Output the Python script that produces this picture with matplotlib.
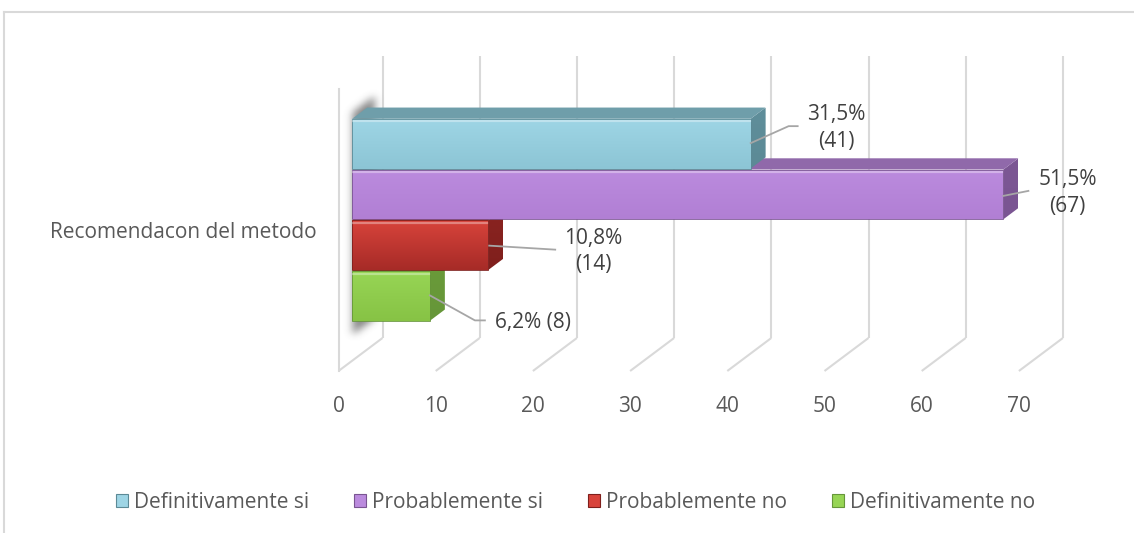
import numpy as np
import matplotlib
matplotlib.use("Agg")
import matplotlib.pyplot as plt
from matplotlib.patches import Polygon, Patch
from matplotlib.lines import Line2D
from matplotlib.path import Path
from matplotlib.colors import to_rgb

# ---------------------------------------------------------------- data
category = "Recomendacon del metodo"
series = ["Definitivamente si", "Probablemente si", "Probablemente no", "Definitivamente no"]
counts = [41, 67, 14, 8]
percents = ["31,5%", "51,5%", "10,8%", "6,2%"]
ticks = [0, 10, 20, 30, 40, 50, 60, 70]

# ---------------------------------------------------------------- style
FONT = "Open Sans"
TXT = "#595959"
GRID = "#D9D9D9"
FS = 15

front_top = ["#9ED5E5", "#BB8BDE", "#D8433B", "#97D555"]
front_bot = ["#8CC5D5", "#B17FD4", "#A62B27", "#87C345"]
top_face = ["#6F9EAA", "#9069AA", "#B33530", "#7DB040"]
side_col = ["#5F8E9A", "#7C5794", "#8A2421", "#6A9B39"]
edge_col = ["#5C8A96", "#7A5592", "#7F1F1C", "#66963A"]

# ---------------------------------------------------------------- projection
W, H = 1134, 533
PX = 9.72            # pixels per value unit
X0 = 338.5           # pixel column of value 0 on the front floor edge
Y0 = 371.0           # pixel row of the front floor edge
DX, DY = 44 / PX, 33.0   # depth vector of the plot box (value units, px)
WALL_H = 282.0       # wall height
BAR_D0, BAR_D1 = 0.31, 0.65   # bar depth range inside the box
BAR_H0, BAR_STEP = 40.0, 50.75


def proj(v, h, d):
    return (v + d * DX, h + d * DY)


fig = plt.figure(figsize=(W / 100, H / 100), dpi=100)
ax = fig.add_axes([0, 0, 1, 1])
ax.set_xlim(-X0 / PX, (W - X0) / PX)
ax.set_ylim(Y0 - H, Y0)
ax.axis("off")


def gradient_poly(pts, c0, c1, z, horizontal=False):
    poly = Polygon(pts, closed=True, facecolor="none", edgecolor="none", zorder=z)
    ax.add_patch(poly)
    xs = [p[0] for p in pts]
    ys = [p[1] for p in pts]
    a, b = np.array(to_rgb(c0)), np.array(to_rgb(c1))
    t = np.linspace(0, 1, 64)
    g = a[None, :] * (1 - t[:, None]) + b[None, :] * t[:, None]
    img = g[None, :, :] if horizontal else g[:, None, :]
    im = ax.imshow(img, extent=(min(xs), max(xs), min(ys), max(ys)),
                   origin="upper", aspect="auto", interpolation="bilinear", zorder=z)
    im.set_clip_path(poly)


# ---------------------------------------------------------------- walls & grid
for t in ticks:
    ax.plot(*zip(proj(t, 0, 1), proj(t, WALL_H, 1)), color=GRID, lw=1.5, zorder=1,
            solid_capstyle="butt")
    ax.plot(*zip(proj(t, 0, 0), proj(t, 0, 1)), color=GRID, lw=1.5, zorder=1,
            solid_capstyle="butt")
    ax.text(t, -35, str(t), ha="center", va="center", fontsize=FS,
            family=FONT, color=TXT)
ax.plot(*zip(proj(0, 0, 0), proj(0, WALL_H, 0)), color=GRID, lw=1.5, zorder=1)

ax.text(-2.3, 138, category, ha="right", va="center", fontsize=FS,
        family=FONT, color=TXT)

# soft shadow of the bar stack against the left wall
n = len(counts)
h_lo, h_hi = BAR_H0, BAR_H0 + BAR_STEP * n
shadow_pts = [proj(0, h_lo - 14, BAR_D0), proj(0, h_hi + 6, BAR_D0),
              proj(0, h_hi + 6, BAR_D1 + 0.15), proj(0, h_lo - 14, BAR_D1 + 0.15)]
sx0, sx1 = -2.5, 6.0
sy0, sy1 = h_lo - 45, h_hi + 55
gx = np.linspace(sx0, sx1, 90)
gy = np.linspace(sy0, sy1, 370)
GX, GY = np.meshgrid(gx, gy)
sp = [(x + 0.1, y) for x, y in shadow_pts]
mask = Path(sp).contains_points(np.c_[GX.ravel(), GY.ravel()]).reshape(GX.shape).astype(float)
k = np.exp(-0.5 * (np.arange(-15, 16) / 4.5) ** 2)
k /= k.sum()
mask = np.apply_along_axis(lambda r: np.convolve(r, k, mode="same"), 1, mask)
mask = np.apply_along_axis(lambda c: np.convolve(c, k, mode="same"), 0, mask)
rgba = np.zeros(mask.shape + (4,))
rgba[..., :3] = 0.32
rgba[..., 3] = 0.7 * mask
ax.imshow(rgba, extent=(sx0, sx1, sy0, sy1), origin="lower", aspect="auto",
          interpolation="bilinear", zorder=2)

# ---------------------------------------------------------------- bars
# bottom bar first so each upper bar hides the top of the one below
for i in reversed(range(n)):
    v = counts[i]
    hb = BAR_H0 + BAR_STEP * (n - 1 - i)
    ht = hb + BAR_STEP - 1.0
    z = 3 + (n - i) * 0.1
    side = [proj(v, hb, BAR_D0), proj(v, ht, BAR_D0), proj(v, ht, BAR_D1), proj(v, hb, BAR_D1)]
    top = [proj(0, ht, BAR_D0), proj(v, ht, BAR_D0), proj(v, ht, BAR_D1), proj(0, ht, BAR_D1)]
    front = [proj(0, hb, BAR_D0), proj(v, hb, BAR_D0), proj(v, ht, BAR_D0), proj(0, ht, BAR_D0)]
    gradient_poly(side, side_col[i], edge_col[i], z)
    ax.add_patch(Polygon(top, closed=True, facecolor=top_face[i], edgecolor="none", zorder=z))
    gradient_poly(front, front_top[i], front_bot[i], z + 0.01)
    ax.add_patch(Polygon(front, closed=True, facecolor="none", edgecolor=edge_col[i],
                         lw=0.6, zorder=z + 0.02))
    hl = [proj(0.1, ht - 2.5, BAR_D0), proj(v - 0.1, ht - 2.5, BAR_D0)]
    ax.plot(*zip(*hl), color="white", alpha=0.35, lw=1.6, zorder=z + 0.03)

# ---------------------------------------------------------------- data labels
# leader path and label anchor, in pixels relative to the bar's front end
leaders = [
    [(0, 0), (38, 17), (47, 17)],
    [(0, -2), (25, 3)],
    [(1, -1), (67, -5)],
    [(0, 0), (45, -25), (55, -25)],
]
label_off = [(86, 15), (64, 1), (105, -7), (65, -27)]
label_ha = ["center", "center", "center", "left"]
two_line = [True, True, True, False]

for i in range(n):
    v = counts[i]
    hb = BAR_H0 + BAR_STEP * (n - 1 - i)
    ex, ey = proj(v, hb + BAR_STEP / 2, BAR_D0)
    lx = [ex + dx / PX for dx, dy in leaders[i]]
    ly = [ey + dy for dx, dy in leaders[i]]
    ax.plot(lx, ly, color="#A6A6A6", lw=1.3, zorder=6)
    tx, ty = ex + label_off[i][0] / PX, ey + label_off[i][1]
    txt = f"{percents[i]}\n({counts[i]})" if two_line[i] else f"{percents[i]} ({counts[i]})"
    ax.text(tx, ty, txt, ha=label_ha[i], va="center", fontsize=FS, family=FONT,
            color="#404040", linespacing=1.35, multialignment="center", zorder=7)

# ---------------------------------------------------------------- legend
handles = [Patch(facecolor=front_top[i], edgecolor=edge_col[i], lw=0.8) for i in range(n)]
fig.legend(handles, series, loc="center", bbox_to_anchor=(575.5 / W, 1 - 502 / H),
           ncol=4, frameon=False, handlelength=0.58, handleheight=0.58,
           handletextpad=0.3, columnspacing=2.15,
           prop={"family": FONT, "size": FS}, labelcolor=TXT)

# ---------------------------------------------------------------- chart border
fig.add_artist(Line2D([3.5 / W, 1], [1 - 11.5 / H] * 2, transform=fig.transFigure,
                      color=GRID, lw=1.5))
fig.add_artist(Line2D([3.5 / W] * 2, [0, 1 - 11.5 / H], transform=fig.transFigure,
                      color=GRID, lw=1.5))

fig.savefig("out.png", dpi=100)
